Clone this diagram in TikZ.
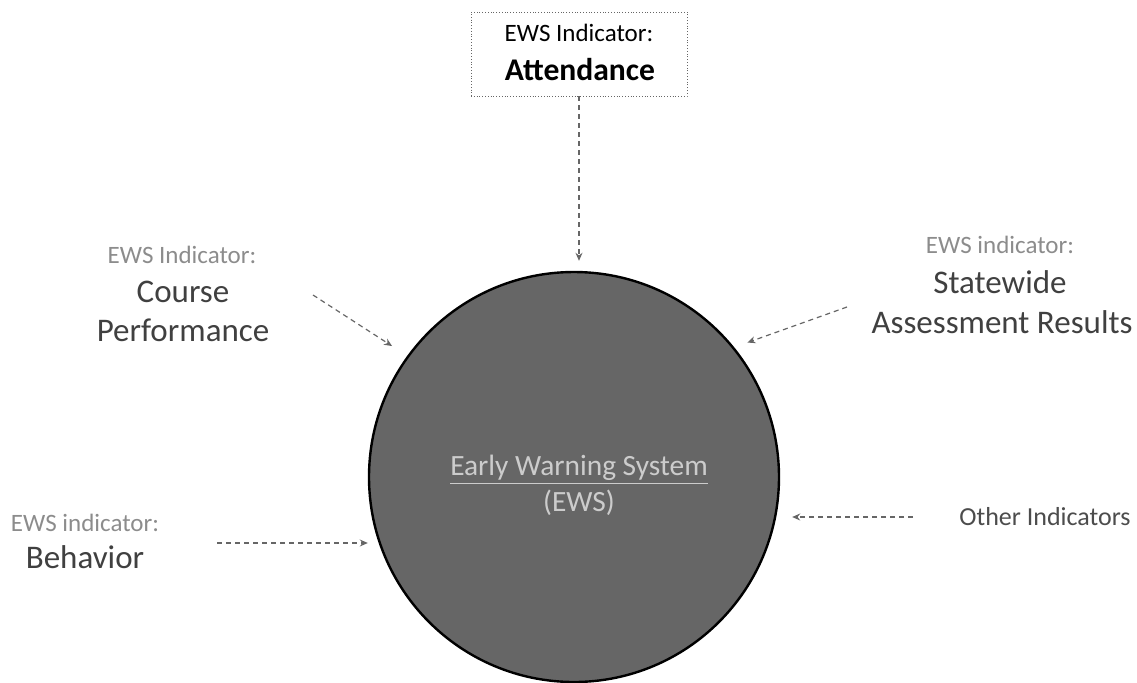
\documentclass[tikz,border=0pt]{standalone}
\usepackage{fontspec}
\setmainfont{Carlito}
\usetikzlibrary{arrows.meta}
\begin{document}
\begin{tikzpicture}[x=0.5pt,y=-0.5pt,
           circle_style/.style={circle,draw=black,line width=1.2pt,fill=black!60,minimum size=205pt,inner sep=0pt},
           box_style/.style={rectangle,draw=black!60,densely dotted,minimum width=108pt,minimum height=42pt},
           small_style/.style={text=black!45,font=\fontsize{12.5}{14}\selectfont,inner sep=0pt},
           big_style/.style={text=black!75,font=\fontsize{16.5}{19}\selectfont,inner sep=0pt},
           edge_style/.style={draw=black!60,line width=0.6pt,dash pattern=on 2.5pt off 2pt,-{Stealth[length=4pt,width=3.5pt]}}]
            \useasboundingbox (0,0) rectangle (1137,682);
            % centre
            \node[circle_style] (ews) at (574, 477) {};
            \node[text=black!20,font=\fontsize{14.7}{17}\selectfont,inner sep=0pt] (ews1) at (579, 470) {\underline{Early Warning System}};
            \node[text=black!20,font=\fontsize{14.7}{17}\selectfont,inner sep=0pt] (ews2) at (579, 503) {(EWS)};
            % indicators
            \node[box_style] (att) at (579, 54) {};
            \node[small_style,text=black] (att1) at (579, 33) {EWS Indicator:};
            \node[inner sep=0pt,font=\bfseries\fontsize{15.8}{18}\selectfont] (att2) at (580, 70) {Attendance};
            \node[small_style] (crs1) at (182, 255) {EWS Indicator:};
            \node[big_style] (crs2) at (183, 292) {Course};
            \node[big_style] (crs3) at (183, 330) {Performance};
            \node[small_style] (sta1) at (1000, 245) {EWS indicator:};
            \node[big_style] (sta2) at (1000, 282) {Statewide};
            \node[big_style] (sta3) at (1002, 322) {Assessment Results};
            \node[small_style] (beh1) at (85, 523) {EWS indicator:};
            \node[big_style] (beh2) at (85, 557) {Behavior};
            \node[small_style,text=black!70,font=\fontsize{13}{15}\selectfont] (oth) at (1045, 517) {Other Indicators};
            % tails
            \coordinate (crs_t) at (313, 295);
            \coordinate (sta_t) at (847, 307);
            \coordinate (beh_t) at (217, 543);
            \coordinate (oth_t) at (913, 517);
            \draw[edge_style,shorten >=5pt]  (att.south) -- (att.south |- ews.north);
            \draw[edge_style,shorten >=9pt]  (crs_t) -- (ews.144);
            \draw[edge_style,shorten >=7pt]  (sta_t) -- (ews.39);
            \draw[edge_style]  (beh_t) -- (beh_t -| ews.west);
            \draw[edge_style,shorten >=6pt]  (oth_t) -- (oth_t -| ews.east);
        \end{tikzpicture}
\end{document}
